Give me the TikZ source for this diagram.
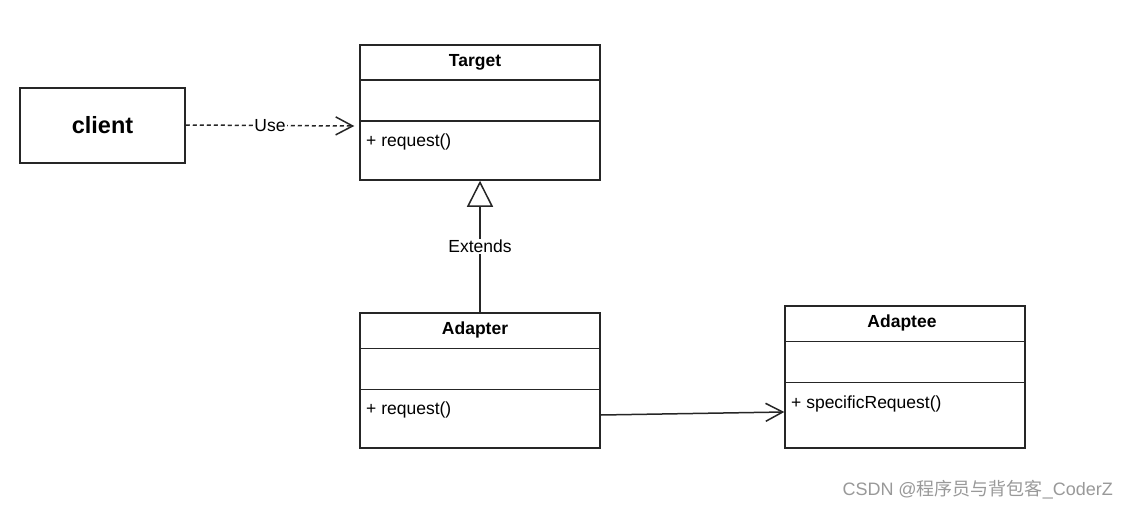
\documentclass[tikz,border=0pt]{standalone}
\usepackage{fontspec}
\setmainfont{Liberation Sans}
\newfontfamily\cjk{Noto Sans CJK SC}
\usetikzlibrary{arrows.meta}
\begin{document}
\begin{tikzpicture}[x=1pt,y=-1pt,
  umlbox/.style={draw=black!85, line width=1.5pt, rectangle, inner sep=0pt, minimum width=240pt},
  divider/.style={draw=black!85, line width=1.5pt},
  lbl/.style={font=\fontsize{17.5}{19}\selectfont, inner sep=0pt},
  ttl/.style={font=\fontsize{17.5}{19}\selectfont\bfseries, inner sep=0pt},
  conn/.style={draw=black!85, line width=1.5pt},
  edgelbl/.style={font=\fontsize{17.5}{19}\selectfont, fill=white, inner sep=1pt},
  openhead/.style={-{Straight Barb[length=17pt, width=18pt, line width=1.5pt]}},
  inherit/.style={-{Triangle[open, length=26pt, width=26pt, line width=1.5pt, fill=white]}}
]
\useasboundingbox[fill=white] (0,0) rectangle (1129,508);

% client
\node[draw=black!85, line width=1.5pt, minimum width=165pt, minimum height=75pt, inner sep=0pt,
      font=\fontsize{23.5}{26}\selectfont\bfseries] (client) at (102.5,125.5) {client};

% Target
\node[umlbox, minimum height=135pt] (target) at (480,112.5) {};
\draw[divider] ([yshift=-36pt]target.north west) -- ([yshift=-36pt]target.north east);
\draw[divider] ([yshift=-77pt]target.north west) -- ([yshift=-77pt]target.north east);
\node[ttl] (targetname) at (475,62) {Target};
\node[lbl, anchor=west] (targetop) at (366,142) {+ request()};

% Adapter
\node[umlbox, minimum height=135pt] (adapter) at (480,380.5) {};
\draw[divider] ([yshift=-36pt]adapter.north west) -- ([yshift=-36pt]adapter.north east);
\draw[divider] ([yshift=-77pt]adapter.north west) -- ([yshift=-77pt]adapter.north east);
\node[ttl] (adaptername) at (475,330) {Adapter};
\node[lbl, anchor=west] (adapterop) at (366,410) {+ request()};

% Adaptee
\node[umlbox, minimum height=142pt] (adaptee) at (905,377) {};
\draw[divider] ([yshift=-36pt]adaptee.north west) -- ([yshift=-36pt]adaptee.north east);
\draw[divider] ([yshift=-77pt]adaptee.north west) -- ([yshift=-77pt]adaptee.north east);
\node[ttl] (adapteename) at (902,323) {Adaptee};
\node[lbl, anchor=west] (adapteeop) at (791,404) {+ specificRequest()};

% connectors
\coordinate (usestart) at (client.east |- 0,125);
\coordinate (useend) at ([xshift=-5pt]target.west |- 0,126);
\draw[conn, dash pattern=on 4pt off 3pt, openhead] (usestart) -- node[edgelbl] {Use} (useend);

\draw[conn, inherit] (adapter.north) -- node[edgelbl, pos=0.5] {Extends} (target.south);

\coordinate (assocstart) at (adapter.east |- 0,415);
\coordinate (assocend) at (adaptee.west |- 0,412);
\draw[conn, openhead] (assocstart) -- (assocend);

% watermark
\node[anchor=east, inner sep=0pt, text=black!40, font=\fontsize{18}{20}\selectfont] (wm) at (1113,490) {CSDN @{\cjk 程序员与背包客}\_CoderZ};
\end{tikzpicture}
\end{document}
